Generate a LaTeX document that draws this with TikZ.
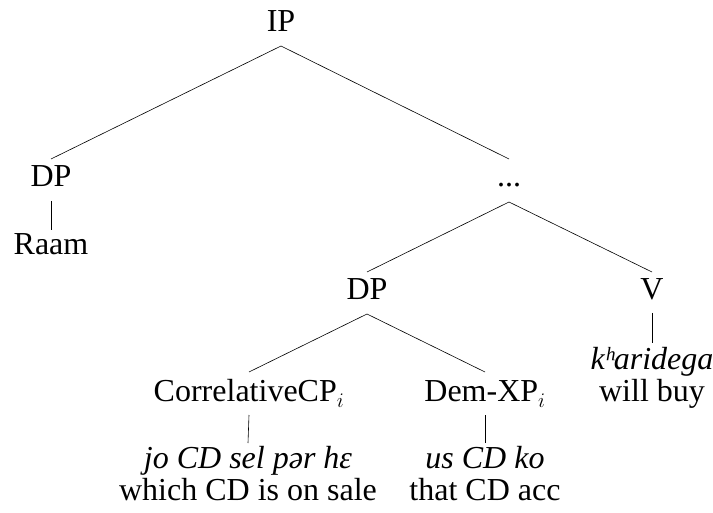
\documentclass[tikz,border=0pt]{standalone}
\usepackage{fontspec}
\setmainfont{Liberation Serif}
\begin{document}
\begin{tikzpicture}[x=1pt,y=-1pt,
  lbl/.style={font=\fontsize{32}{32}\selectfont, inner sep=0pt, anchor=base},
  branch/.style={draw=black, line width=0.6pt}]
\useasboundingbox (0,0) rectangle (713,513);
% nodes
\node[lbl] (IP)   at (281,32)  {IP};
\node[lbl] (DPa)  at (51,187)  {DP};
\node[lbl] (Raam) at (51,255)  {Raam};
\node[lbl] (dots) at (509,187) {...};
\node[lbl] (DPb)  at (367,300) {DP};
\node[lbl] (V)    at (652,300) {V};
\node[lbl] (Corr) at (249,402) {CorrelativeCP$_i$};
\node[lbl] (Dem)  at (485,402) {Dem-XP$_i$};
\node[lbl] (jo)   at (248,468) {\itshape jo CD sel pər hɛ};
\node[lbl] (joG)  at (248,500) {which CD is on sale};
\node[lbl] (us)   at (485,468) {\itshape us CD ko};
\node[lbl] (usG)  at (485,500) {that CD acc};
\node[lbl] (kh)   at (652,370) {\itshape kʰaridega};
\node[lbl] (khG)  at (652,402) {will buy};
% branches
\draw[branch] ([yshift=-14pt]IP.base) -- ([yshift=28pt]DPa.base);
\draw[branch] ([yshift=-14pt]IP.base) -- ([yshift=28pt]dots.base);
\draw[branch] ([yshift=-14pt]DPa.base) -- ([yshift=25pt]Raam.base);
\draw[branch] ([yshift=-15pt]dots.base) -- ([yshift=28pt]DPb.base);
\draw[branch] ([yshift=-15pt]dots.base) -- ([yshift=28pt]V.base);
\draw[branch] ([yshift=-14pt]DPb.base) -- ([yshift=30pt]Corr.base);
\draw[branch] ([yshift=-14pt]DPb.base) -- ([yshift=30pt]Dem.base);
\draw[branch] ([yshift=-13pt]Corr.base) -- ([yshift=25pt]jo.base);
\draw[branch] ([yshift=-13pt]Dem.base) -- ([yshift=25pt]us.base);
\draw[branch] ([yshift=-13pt]V.base) -- ([yshift=27pt]kh.base);
\end{tikzpicture}
\end{document}
